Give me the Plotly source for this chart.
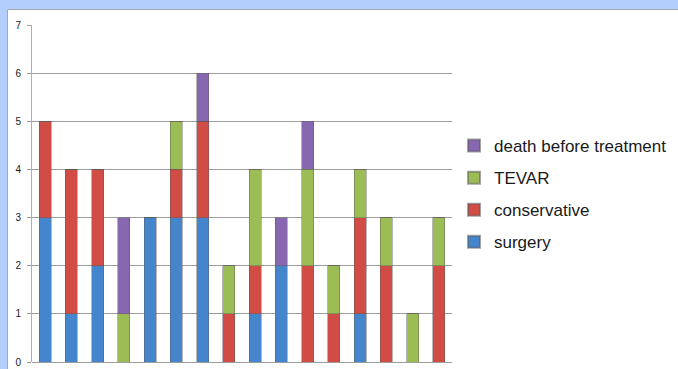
import plotly.graph_objects as go

# Patient outcomes per case group (16 groups, stacked counts)
groups = [str(i) for i in range(1, 17)]
surgery = [3, 1, 2, 0, 3, 3, 3, 0, 1, 2, 0, 0, 1, 0, 0, 0]
conservative = [2, 3, 2, 0, 0, 1, 2, 1, 1, 0, 2, 1, 2, 2, 0, 2]
tevar = [0, 0, 0, 1, 0, 1, 0, 1, 2, 0, 2, 1, 1, 1, 1, 1]
death = [0, 0, 0, 2, 0, 0, 1, 0, 0, 1, 1, 0, 0, 0, 0, 0]

# (name, values, colour, position in legend)
series = [
    ("surgery", surgery, "#4585cc", 4),
    ("conservative", conservative, "#d04c45", 3),
    ("TEVAR", tevar, "#9cbd55", 2),
    ("death before treatment", death, "#8767b0", 1),
]

W, H = 678, 369
L, R, T, B = 32, 226, 25, 7
pw, ph = W - L - R, H - T - B


def px_x(p):
    return (p - L) / pw


def px_y(p):
    return (H - B - p) / ph


fig = go.Figure()
for name, vals, color, rank in series:
    fig.add_trace(go.Bar(
        x=groups, y=vals, name=name, legendgroup=name, legendrank=rank,
        marker=dict(color=color, line=dict(color="rgba(90,90,90,0.55)", width=0.8)),
    ))

# Light blue frame along the top and left edges, with a thin grey border
fig.add_shape(type="rect", xref="paper", yref="paper", layer="below",
              x0=px_x(0), x1=px_x(W), y0=px_y(9), y1=px_y(0),
              fillcolor="#b3cefc", line_width=0)
fig.add_shape(type="rect", xref="paper", yref="paper", layer="below",
              x0=px_x(0), x1=px_x(7.5), y0=px_y(H), y1=px_y(0),
              fillcolor="#b3cefc", line_width=0)
fig.add_shape(type="line", xref="paper", yref="paper", layer="below",
              x0=px_x(7.5), x1=px_x(W), y0=px_y(9.5), y1=px_y(9.5),
              line=dict(color="#a4a9b2", width=1))
fig.add_shape(type="line", xref="paper", yref="paper", layer="below",
              x0=px_x(7.5), x1=px_x(7.5), y0=px_y(H), y1=px_y(9.5),
              line=dict(color="#a4a9b2", width=1))

fig.update_layout(
    width=W, height=H,
    margin=dict(l=L, r=R, t=T, b=B, pad=0, autoexpand=False),
    barmode="stack",
    bargap=0.54,
    paper_bgcolor="white",
    plot_bgcolor="white",
    font=dict(family="Liberation Sans, Arial, sans-serif", color="#1a1a1a"),
    showlegend=True,
    legend=dict(
        traceorder="grouped",
        x=px_x(454), xanchor="left",
        y=px_y(194), yanchor="middle",
        font=dict(size=17, color="#1a1a1a"),
        bgcolor="rgba(0,0,0,0)",
        tracegroupgap=7,
        itemsizing="constant",
    ),
    xaxis=dict(
        showticklabels=False, showgrid=False, ticks="",
        showline=False, zeroline=False, fixedrange=True, automargin=False,
    ),
    yaxis=dict(
        range=[0, 7], dtick=1, tick0=0,
        showgrid=True, gridcolor="#9c9c9c", gridwidth=1,
        zeroline=True, zerolinecolor="#9c9c9c", zerolinewidth=1,
        showline=True, linecolor="#b0b0b0", linewidth=1,
        ticks="outside", ticklen=4, tickcolor="#9c9c9c",
        tickfont=dict(size=10, color="#1a1a1a"),
        ticklabelstandoff=4,
        fixedrange=True, automargin=False,
    ),
)

fig.write_html("out.html")
